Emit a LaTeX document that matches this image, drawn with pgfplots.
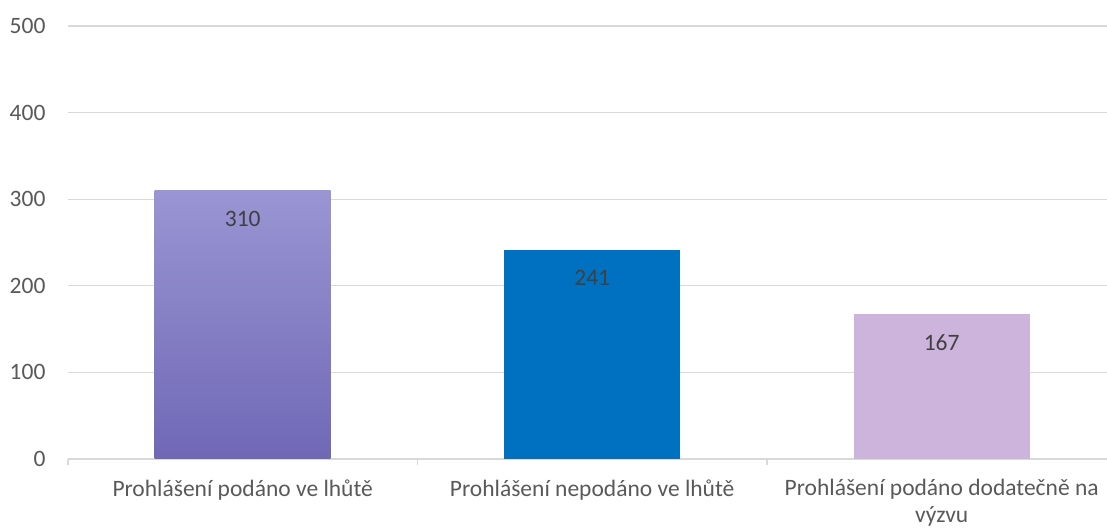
\documentclass[border=0pt]{standalone}
\usepackage{pgfplots}
\pgfplotsset{compat=1.18}
\usepackage{fontspec}
\setmainfont{Carlito}
\definecolor{gridc}{HTML}{D9D9D9}
\definecolor{tickc}{HTML}{595959}
\definecolor{lblc}{HTML}{404040}
\definecolor{barA}{HTML}{9A95D3}
\definecolor{barAb}{HTML}{7068B6}
\definecolor{barB}{HTML}{0070C0}
\definecolor{barC}{HTML}{CDB4DD}
\begin{document}
\begin{tikzpicture}
\useasboundingbox (-68pt,-70pt) rectangle (1039pt,459pt);
\begin{axis}[
  at={(0pt,0pt)}, anchor=south west,
  scale only axis,
  width=1039pt, height=433pt,
  xmin=-0.5, xmax=2.473,
  ymin=0, ymax=500,
  ytick={0,100,...,500},
  xtick={0,1,2},
  xticklabels={Prohlášení podáno ve lhůtě, Prohlášení nepodáno ve lhůtě, {Prohlášení podáno dodatečně na\\výzvu}},
  xticklabel style={align=center, font=\fontsize{23.5}{26.5}\selectfont, text=tickc, yshift=-17pt},
  yticklabel style={font=\fontsize{23.5}{27}\selectfont, text=tickc, xshift=-19pt},
  /pgf/number format/assume math mode=true,
  major tick length=0pt,
  ymajorgrids, grid style={gridc, line width=1.1pt},
  axis y line*=left,
  y axis line style={draw=none},
  axis x line*=bottom,
  x axis line style={gridc, line width=1.1pt, -},
  extra x ticks={-0.5,0.5,1.5},
  extra x tick labels={},
  extra x tick style={major tick length=6pt, tick style={gridc, line width=1.1pt}, tick align=outside, grid=none},
  ybar, bar width=176pt, bar shift=0pt,
  nodes near coords,
  nodes near coords style={font=\fontsize{23.5}{27}\selectfont, text=lblc, anchor=center, yshift=-28pt},
  clip=false,
]
\addplot[draw=none, top color=barA, bottom color=barAb] coordinates {(0,310)};
\addplot[draw=none, fill=barB] coordinates {(1,241)};
\addplot[draw=none, fill=barC] coordinates {(2,167)};
\end{axis}
\end{tikzpicture}
\end{document}
